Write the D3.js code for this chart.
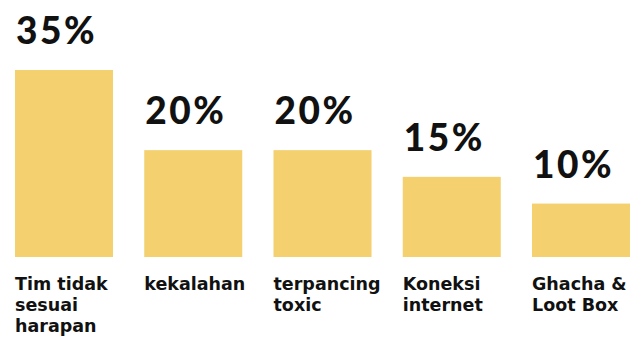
<!DOCTYPE html>
<html>
<head>
<meta charset="utf-8">
<script src="https://cdn.jsdelivr.net/npm/d3@7"></script>
<style>
  html, body { margin: 0; padding: 0; background: #ffffff; }
  svg { display: block; }
</style>
</head>
<body>
<svg id="chart" width="635" height="338"></svg>
<script>
// Reasons players get upset while gaming (share of respondents)
const categories = ["Tim tidak sesuai harapan", "kekalahan", "terpancing toxic", "Koneksi internet", "Ghacha & Loot Box"];
const labelLines = [["Tim tidak", "sesuai", "harapan"], ["kekalahan"], ["terpancing", "toxic"], ["Koneksi", "internet"], ["Ghacha &", "Loot Box"]];
const values = [35, 20, 20, 15, 10];

const width = 635, height = 338;
const baseline = 257;
const svg = d3.select("#chart");

const x = d3.scaleBand()
  .domain(categories)
  .range([15, 630])
  .paddingInner(0.2418)
  .paddingOuter(0);

const y = d3.scaleLinear()
  .domain([0, 35])
  .range([baseline, 70]);

const barColor = "#F4D06F";
const textColor = "#111111";

const g = svg.append("g");

// bars
g.selectAll("rect.bar")
  .data(values)
  .join("rect")
  .attr("class", "bar")
  .attr("x", (d, i) => x(categories[i]))
  .attr("y", d => y(d))
  .attr("width", x.bandwidth())
  .attr("height", d => baseline - y(d))
  .attr("fill", barColor);

// value labels above each bar
g.selectAll("text.value")
  .data(values)
  .join("text")
  .attr("class", "value")
  .attr("x", (d, i) => x(categories[i]) + 1)
  .attr("y", d => y(d) - 26)
  .attr("font-family", "Lato, sans-serif")
  .attr("font-weight", 900)
  .attr("font-size", 37)
  .attr("letter-spacing", 2.5)
  .attr("fill", textColor)
  .text(d => d + "%");

// category labels below the baseline
const cat = g.selectAll("text.cat")
  .data(labelLines)
  .join("text")
  .attr("class", "cat")
  .attr("x", (d, i) => x(categories[i]))
  .attr("y", 290)
  .attr("font-family", "'DejaVu Sans', sans-serif")
  .attr("font-weight", 700)
  .attr("font-size", 17.5)
  .attr("fill", textColor);

cat.selectAll("tspan")
  .data(d => d)
  .join("tspan")
  .attr("x", function () { return d3.select(this.parentNode).attr("x"); })
  .attr("dy", (d, i) => i === 0 ? 0 : 21)
  .text(d => d);
</script>
</body>
</html>
